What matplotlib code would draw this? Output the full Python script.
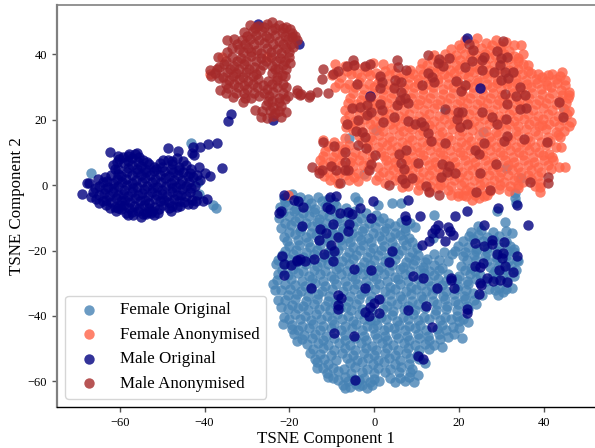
import matplotlib
matplotlib.use("Agg")
import matplotlib.pyplot as plt

female_original = [
(-21.2,-3.9),(-19.5,-2.6),(-17.4,-3.6),(-15.6,-4.4),(-13.2,-3.5),(-11,-4.2),(-4.6,-3.6),(-3.8,-4.8),(33.2,-4),(33.4,-5.5),(1,-6),(4.1,-5.6),(6.4,-5.6),(-43.3,12.7),
(-22.3,-6.6),(-20.3,-6),(-18.4,-7.2),(-16,-6.8),(-13.9,-7.4),(-11.7,-6.4),(-8.9,-6.5),(-6.6,-7.1),(29,-7.9),
(-22.4,-10),(-20.1,-9.4),(-17.7,-10.1),(-15.3,-9.6),(-13,-10.3),(-10.6,-9.5),(-8.2,-10.1),(-5.7,-9.4),(-3.1,-10.2),(0.4,-9),(2,-10),(14.2,-9.2),
(-22,-13),(-19.6,-12.2),(-17.2,-13.1),(-14.7,-12.5),(-12.4,-13),(-9.9,-12.8),(-7.4,-13.2),(-5,-12.4),(-2.4,-13.1),(0.2,-12.7),(2.7,-13.2),(5,-12.5),(7.3,-13),(9.6,-12.7),(24.5,-12.4),(30.8,-11.4),
(-21.2,-15.8),(-18.7,-15.1),(-16.2,-16),(-13.8,-15.3),(-11.2,-16.1),(-8.9,-15.4),(-6.3,-16.1),(-3.9,-15.5),(-1.4,-16.3),(1.1,-15.6),(3.6,-16),(6.1,-15.3),(8.2,-16.2),(13.8,-16.2),(22.3,-15.6),(24.5,-15.4),(26.6,-15.9),(29.4,-15.5),(32.4,-14.8),
(-20.1,-18.6),(-17.7,-18.2),(-15.2,-19),(-12.7,-18.4),(-10.1,-19.2),(-7.6,-18.3),(-5.1,-19),(-2.6,-18.4),(-0.2,-19.1),(2.4,-18.5),(5,-19),(7.4,-18.2),(10,-19.1),(19.7,-18.5),(22,-18.9),(24.3,-19.4),(26.7,-19.2),(29.3,-18.8),(32,-18.5),
(-21.7,-21.5),(-19.2,-21.1),(-16.7,-21.9),(-14.3,-21.2),(-11.8,-22),(-9.3,-21.4),(-6.7,-22.1),(-4.2,-21.3),(-1.6,-22),(0.9,-21.3),(3.3,-21.9),(5.7,-21.2),(8.1,-22),(10.4,-21.4),(12.4,-22.5),(14.2,-21),(16.4,-20.6),(18.4,-21.2),(21,-21.7),(23.5,-21.4),(26,-21.6),(28.6,-22),(31,-21.6),(33,-20.5),
(-23.2,-24),(-21.1,-24.2),(-18.6,-24.5),(-16.1,-24),(-13.6,-24.8),(-11,-24.2),(-8.4,-24.9),(-5.9,-24.2),(-3.4,-24.9),(-0.9,-24.3),(1.6,-25),(4.2,-24.4),(6.7,-25),(9.1,-24.2),(11.5,-25),(14,-24.4),(16,-25.2),(20.5,-24.6),(22.8,-25.2),(27.2,-25),(29.4,-24.6),(32.2,-24.6),(34,-23.2),
(-22.7,-27.1),(-20.4,-27.4),(-17.9,-27),(-15.4,-27.8),(-12.9,-27.1),(-10.3,-27.9),(-7.8,-27.2),(-5.2,-27.9),(-2.7,-27.1),(-0.2,-27.8),(2.3,-27.2),(4.8,-28),(7.2,-27.3),(11.8,-27),(14,-27.6),(17.4,-27.2),(20,-27.8),(22.5,-27.1),(25,-27.6),(28,-27.1),(30.3,-27.6),(33,-27.8),
(-23.9,-30.2),(-23.3,-32),(-21,-30.3),(-18.8,-30.4),(-16.4,-30.9),(-14,-30),(-11.5,-30.8),(-9,-30.1),(-6.5,-30.9),(-4,-30.1),(-1.4,-30.8),(1.1,-30.2),(3.6,-31),(6.1,-30.3),(8.6,-31),(11,-30.4),(13.3,-30.9),(16,-30.5),(19.8,-30.8),(22.2,-30.2),(27,-31.8),(29.3,-31.4),(32.4,-31.6),(30.3,-32.6),
(-22.6,-35.2),(-20.4,-33.6),(-18.2,-33.2),(-15.7,-33.9),(-13.2,-33.2),(-10.7,-33.9),(-5.7,-33.9),(-3.2,-33.2),(-0.7,-34),(3.6,-33.3),(6.1,-34),(8.6,-33.3),(11.1,-34),(13.7,-33.4),(16.3,-34),(18.8,-33.3),(21.2,-33.8),(23.4,-33),(25.4,-33.7),(29.2,-33.6),
(-22,-37.4),(-19.3,-36.5),(-16.8,-37),(-14.3,-36.3),(-11.7,-37),(-9.2,-36.4),(-6.7,-37.1),(-4.2,-36.3),(3,-36.9),(5.4,-36.3),(7.9,-37),(10.4,-36.2),(14.7,-36.3),(17.2,-37),(19.7,-36.3),(21.9,-36.9),(23.9,-36.3),
(-21.2,-40.2),(-18.8,-39.4),(-16.3,-40),(-13.8,-39.3),(-11.2,-40),(-8.7,-39.4),(-6.2,-40.1),(-3.6,-39.4),(-1,-41.3),(1.6,-40.2),(4.1,-39.6),(6.7,-40.2),(9.2,-39.5),(11.7,-40.2),(14.3,-39.5),(16.8,-40.2),(19.5,-40),(22.2,-41.8),(21,-41),
(-21.5,-42.5),(-19.4,-42.6),(-17,-43),(-14.5,-42.4),(-12,-43),(-9.5,-42.5),(-6.9,-43),(-4.4,-42.4),(-1.8,-43.2),(0.7,-42.6),(3.2,-43.3),(5.8,-42.6),(8.3,-43.2),(10.8,-42.6),(16,-42.8),(18.5,-43.4),(20,-43.8),(18.7,-45.5),
(-18.3,-47.6),(-19,-45.6),(-16.5,-45.8),(-14,-45.4),(-11.4,-46),(-6.9,-45.9),(-2.4,-46),(0.1,-45.4),(2.6,-46.1),(5.2,-45.5),(7.7,-46.1),(10.2,-45.6),(12.7,-46),(15.2,-45.6),(17.3,-46.3),(20.6,-46.8),
(-15.8,-48.6),(-13.3,-48.4),(-10.8,-49),(-8.2,-48.4),(-5.7,-49),(-3.1,-48.4),(-0.6,-49.1),(1.9,-48.4),(4.5,-49),(7,-48.4),(9.5,-49),(11.9,-48.5),(14,-49),(15.9,-49.4),
(-15.2,-51.4),(-12.7,-51.5),(-10.2,-52),(-7.6,-51.3),(-5,-52),(-2.5,-51.4),(0,-52),(2.5,-51.4),(5,-52),(7.6,-51.3),(10.1,-51.8),
(-13.6,-54),(-11,-54.6),(-5.8,-54.5),(-3,-54),(-0.4,-54.7),(2.2,-54.2),(5,-54.7),(8.3,-54.7),(11.9,-54.5),
(-13.6,-56),(-11.2,-57.4),(-8.6,-56.8),(-5.5,-57.5),(-2.9,-57),(0,-57.4),(2.6,-57),(5.8,-57.2),(8.4,-57.2),(10.4,-58),
(-10.9,-58.6),(-8.5,-59.4),(-6.2,-60),(-3.6,-59.6),(-1,-60.2),(1.1,-59.8),(5,-60.2),(7.2,-60),(9.4,-60.1),
(-6.9,-62.1),(-5.6,-61.6),(-3.5,-61.5),(-1.8,-62.1),
(-66.8,3.6),(-37.3,-6.9),(-38.1,-6.1),(-41.5,1),(-41.3,-2.7),
(16.7,22.5),(44.8,23.1),(25.7,16.3),(31,5.3),(34.5,2.2),(-2.4,3.4),(-5.9,14.3),(0.4,16.8),(33.2,-2.5),
(-21,-5.2),(-18,-4.8),(-15,-5.4),(-12.3,-5),(-9.6,-5.3),
(-21.4,-8.3),(-19,-7.9),(-16.7,-8.6),(-14.3,-8.1),(-12,-8.7),(-9.5,-8),(-7,-8.5),(-4.6,-8),(-2,-8.6),
(-21,-11.5),(-18.6,-11),(-16,-11.7),(-13.6,-11.2),(-11.3,-11.6),(-8.8,-11.1),(-6.4,-11.7),(-4,-11),(-1.3,-11.6),(1.2,-11),(3.5,-11.7),(6.2,-11.2),(8.5,-11.6),
(-20,-14.3),(-17.5,-13.9),(-15,-14.5),(-12.6,-14),(-10,-14.6),(-7.6,-14),(-5.2,-14.6),(-2.8,-14),(-0.2,-14.6),(2.4,-14),(4.8,-14.6),(7.2,-14),(22.8,-14.3),(25.2,-13.8),(28,-14.2),(31,-13.9),
(-20.5,-17),(-18,-16.7),(-15.6,-17.3),(-13,-16.7),(-10.6,-17.3),(-8,-16.8),(-5.6,-17.4),(-3.1,-16.7),(-0.7,-17.3),(1.8,-16.8),(4.3,-17.4),(6.8,-16.8),(9,-17.3),(21,-17),(23.4,-16.6),(25.6,-17.2),(28.3,-16.8),(31,-17.2),
(-21,-20),(-18.5,-19.7),(-16,-20.3),(-13.5,-19.8),(-11,-20.4),(-8.5,-19.8),(-6,-20.3),(-3.4,-19.7),(-0.9,-20.4),(1.6,-19.8),(4.1,-20.3),(6.5,-19.8),(9,-20.4),(19,-20),(21.5,-20.3),(24,-20.1),(26.5,-20.4),(29,-20),(31.5,-20.2),(33,-19.6),
(-22.6,-23),(-20,-22.7),(-17.5,-23.3),(-15,-22.8),(-12.5,-23.4),(-10,-22.8),(-7.6,-23.3),(-5,-22.7),(-2.5,-23.4),(0,-22.8),(2.5,-23.3),(5,-22.7),(7.4,-23.4),(9.7,-22.9),(12,-23.4),(15.2,-23),(17.4,-23.2),(21.8,-23),(24,-22.9),(26.5,-23.2),(29,-23),(31.5,-23.3),(33.7,-22.9),
(-21.7,-26),(-19.2,-25.7),(-16.7,-26.3),(-14.2,-25.8),(-11.7,-26.3),(-9,-25.7),(-6.5,-26.3),(-4,-25.8),(-1.5,-26.4),(1,-25.8),(3.5,-26.3),(6,-25.7),(8.4,-26.3),(10.8,-25.8),(13,-26.3),(15.2,-25.9),(21.5,-26),(23.8,-26.3),(28.5,-26.2),(31,-26.1),(33.5,-26),
(-22.9,-29),(-19.6,-28.7),(-17,-29.3),(-14.6,-28.8),(-12,-29.3),(-9.6,-28.7),(-7,-29.4),(-4.6,-28.8),(-2,-29.3),(0.5,-28.7),(3,-29.4),(5.5,-28.8),(8,-29.3),(10.3,-28.7),(12.6,-29.3),(15,-28.8),(17,-29.2),(19.4,-28.8),(21.8,-29.3),(24,-28.7),(26.3,-29.2),(28.8,-28.8),(31.4,-29),
(-22,-32),(-19.8,-31.8),(-17.2,-32.3),(-14.8,-31.8),(-12.3,-32.3),(-10,-31.7),(-7.3,-32.4),(-4.8,-31.8),(-2.4,-32.3),(0.2,-31.8),(2.6,-32.4),(5,-31.8),(7.4,-32.3),(9.8,-31.7),(12.2,-32.4),(14.6,-31.8),(17,-32.3),(19.4,-31.8),(21.6,-32.2),(28.4,-32.1),(31,-31.9),
(-21,-35),(-18.6,-34.7),(-16,-35.3),(-13.6,-34.8),(-11,-35.3),(-8.6,-34.8),(-6.1,-35.4),(-3.6,-34.8),(-1,-35.3),(1.5,-34.7),(4,-35.4),(6.5,-34.8),(9,-35.3),(11.6,-34.7),(13.9,-35.3),(16.6,-34.8),(19,-35.3),(21.4,-34.8),(23.6,-35.1),
(-20.4,-38),(-18,-37.7),(-15.6,-38.3),(-13,-37.8),(-10.5,-38.3),(-8,-37.7),(-5.5,-38.3),(-3,-37.8),(-0.5,-38.3),(2,-37.8),(4.5,-38.4),(7,-37.8),(9.5,-38.3),(12,-37.7),(14.5,-38.3),(17,-37.8),(19.6,-38.3),(22,-37.9),
(-20,-41),(-17.6,-40.8),(-15,-41.3),(-12.5,-40.8),(-10,-41.3),(-7.5,-40.8),(-5,-41.4),(-2.4,-40.8),(0.2,-41.3),(2.8,-40.8),(5.3,-41.4),(7.9,-40.8),(10.4,-41.3),(13,-40.8),(15.4,-41.3),(18,-40.9),(20,-41.6),
(-19.4,-44),(-18,-44.2),(-15.3,-43.8),(-12.8,-44.3),(-10.3,-43.8),(-7.8,-44.3),(-5.3,-43.8),(-2.8,-44.4),(-0.3,-43.8),(2.2,-44.3),(4.7,-43.8),(7.2,-44.4),(9.7,-43.8),(12.2,-44.3),(14.7,-43.9),(17,-44.2),
(-17,-47),(-14.6,-46.8),(-12,-47.3),(-9.5,-46.8),(-7,-47.3),(-4.5,-46.8),(-2,-47.4),(0.6,-46.8),(3.1,-47.3),(5.6,-46.8),(8.1,-47.3),(10.6,-46.8),(13,-47.3),(15.5,-47),
(-14.5,-50),(-12,-49.8),(-9.5,-50.3),(-7,-49.8),(-4.5,-50.3),(-2,-49.8),(0.5,-50.4),(3,-49.8),(5.5,-50.3),(8,-49.8),(10.5,-50.3),(13,-50),
(-14,-53),(-11.8,-53),(-9,-53.3),(-6.5,-52.8),(-4,-53.3),(-1.5,-52.8),(1,-53.4),(3.5,-52.8),(6,-53.3),(8.5,-52.9),(10.5,-53.2),
(-12,-56),(-9.8,-55.8),(-7.2,-56.2),(-4.5,-55.7),(-1.8,-56.2),(1,-55.8),(3.6,-56.3),(6.3,-55.7),(9,-56.1),
(-9.8,-59),(-7,-58.7),(-4.8,-59.2),(-2.3,-58.8),(0,-59.3),(3.6,-58.8),(6,-59),(8.2,-58.7),
(-7.4,-61),(-4.4,-60.9),(-2.8,-61.1),(-0.6,-61.2),
]
female_anonymised = [
(21.5,44.2),(24.2,44.8),(26.3,43.5),(28.8,44.3),(31,43.6),(34.7,42.8),
(18.2,41.5),(20.5,41.8),(22.8,40.9),(25.1,42),(27.3,41.2),(29.6,41.6),(31.8,40.8),(34,38.8),
(11.2,37.2),(13.6,38.5),(15.8,38),(18,38.9),(20.3,38.2),(22.6,38.6),(24.9,38.4),(27,38.9),(29.3,38),(31.5,38.6),(33.8,37.9),(36.3,36.7),
(-9.3,37),(-7,36.3),(-4.8,36.8),(-2.5,36),(-0.2,37.2),(2,36.9),(4,35.7),(8.5,35),(10.9,35.4),(13.2,34.8),(15.5,35.6),(17.8,35),(20,35.5),(22.4,34.9),(24.7,35.6),(27,35),(29.4,35.4),(31.8,35),(34,35.6),(36.3,34.8),(38.6,33.8),(41,33.5),(44.2,34.6),
(-10,33.5),(-7.8,33),(-5.5,33.8),(-3.2,33),(-1,33.6),(1.3,32.8),(3.5,33.6),(5.8,32.8),(8.1,33),(10.3,32.4),(12.6,32.8),(15,32.5),(17.3,33),(19.6,32.3),(22,32.9),(24.3,32.2),(26.6,32.8),(28.9,32.2),(31.2,31.8),(33.5,32.8),(35.8,32),(38.2,32.5),(40.5,31.8),(42.8,32.4),(45,30.5),
(-9.2,30),(-7,29.5),(-4.6,30),(-2.4,29.2),(-0.1,30.1),(2.2,29.4),(4.6,30),(7,29.5),(9.3,30),(11.5,29.3),(13.9,30),(16.2,29.4),(18.5,29.9),(20.8,29.2),(23.2,29.9),(25.5,29.3),(27.8,29.9),(30,29.2),(32.4,29.8),(34.7,29.2),(37,29.9),(39.3,29.2),(41.6,29.8),(44,29),(46,28.5),
(-5.7,26.6),(-3.2,26),(-0.8,26.7),(1.5,26),(3.9,26.6),(6.2,26),(8.6,26.6),(10.9,26),(13.2,26.7),(15.6,26),(17.9,26.7),(20.2,26),(22.6,26.6),(24.9,26),(27.2,26.7),(29.5,26),(31.9,26.6),(34.2,26),(36.5,26.7),(38.9,26),(41.2,26.6),(43.5,26),(45.6,26.5),
(-7,23),(-4.8,23.4),(-2.4,22.8),(0,23.4),(2.3,22.8),(4.7,23.5),(7,22.8),(9.4,23.4),(11.7,22.8),(14,23.5),(18.7,23),(21,23.5),(23.4,22.8),(25.7,23.4),(28,22.8),(30.4,23.5),(32.7,22.8),(35,23.4),(37.4,22.8),(39.7,23.4),(42,22.8),(44.4,23.4),(46,22.7),
(-6.8,20),(-4.5,19.6),(-2.2,20.3),(0.2,19.6),(2.5,20.2),(4.9,19.7),(7.2,20.2),(9.5,19.6),(11.9,20.3),(14.2,19.6),(16.5,20.2),(18.9,19.6),(21.2,20.2),(23.6,19.5),(25.9,20.2),(28.2,19.6),(30.6,20.2),(32.9,19.5),(35.3,20.2),(37.6,19.6),(39.9,20.2),(42.3,19.5),(44.6,20),(46.5,19.3),
(-6.6,17.8),(-5,16.8),(-2.6,16.2),(-0.3,17),(2,16.4),(4.4,17),(6.7,16.4),(9,17),(11.4,16.4),(13.7,17),(16,16.3),(18.4,17),(20.7,16.4),(23,16.9),(26.4,16.6),(28.7,16.3),(31,17),(33.4,16.4),(35.7,17),(38,16.4),(40.4,17),(42.8,16.3),(44.8,16.5),(39.5,18.4),
(-12,13.7),(-9.6,13),(-7,14.3),(-2.8,13),(-0.5,13.7),(1.8,13),(4.2,13.6),(6.5,13),(8.8,13.7),(11.2,13),(13.5,13.6),(15.8,13),(18.2,13.7),(20.5,13),(22.8,13.6),(25.2,13),(27.5,13.6),(29.8,13),(32.2,13.7),(34.5,13),(36.8,13.6),(39.2,13),(41.5,13.6),(43.8,14.6),
(-11.5,10.5),(-9,10.1),(-6.8,11),(-4.5,10),(-1.2,10.6),(1.6,10.1),(3.9,10.6),(6.2,10),(8.6,10.6),(10.9,10),(13.2,10.7),(15.6,10),(17.9,10.6),(20.2,10),(22.6,10.6),(24.9,10),(27.2,10.7),(29.6,10),(31.9,10.6),(34.2,10),(36.6,10.6),(38.9,10),(41.2,9.6),(44,11.5),
(-12.7,7.5),(-10.4,7),(-8.2,7.6),(-5.8,7),(-3.5,7.5),(-1.2,7),(2.8,7.5),(5,7),(7.4,7.6),(9.7,7),(12,7.5),(14.4,7),(16.7,7.6),(19,7),(21.4,7.6),(23.7,7),(26,7.5),(28.4,7),(30.8,7.6),(33,7),(35.4,7.6),(37.7,7),(40,7.5),(42.2,7.8),
(-13,4.6),(-11,4),(-8.4,3.8),(-6,4.3),(-3.8,3.8),(-1.5,4.8),(2,4),(4.4,4.6),(6.7,4),(9,4.6),(11.4,4),(13.7,4.6),(16,4),(18.4,4.6),(20.7,4),(23,4.7),(25.4,4),(27.7,4.6),(30,3.9),(32.4,4.6),(34.7,4),(37,4.6),(39.4,4),(45,5.6),(41.6,5),
(-10.5,1.5),(-8.5,0.5),(-6,1.5),(-3.8,1.3),(0.5,1.5),(2.5,0.7),(4.9,1.5),(7.2,0.9),(9.5,1.5),(11.9,0.9),(14.2,1.5),(16.5,0.9),(18.9,1.5),(21.2,0.9),(23.6,1.5),(25.9,0.9),(28.2,1.5),(30.6,0.9),(32.9,1.5),(35,1),(37,2),(39,0.5),
(6.5,-0.6),(10.4,-1.5),(12.8,-1.8),(15,-1),(17.4,-1.5),(19.7,-2.5),(21.6,-1.4),(23,-2.2),(25,-1.4),(27.3,-1.8),(29.5,-1.2),(31.8,-1.8),(34,-1),(39,-2),(39,-0.6),
(19.8,-3.3),(21.6,-3.4),(23,-4.6),(24.6,-4),(25.8,-3.2),
(-35.8,39),(-38.8,33.9),(-25.4,39.2),(-20.3,-2.9),
(20,42.8),(23.5,43),(27.7,42.8),(30,42.5),(33,42.7),
(14,39.8),(16.8,40),(19.2,39.6),(21.5,39.9),(24,39.6),(26.2,40),(28.4,39.6),(30.6,39.9),(32.9,39.5),(35,40),
(12.4,36.8),(14.7,36.5),(16.9,37),(19.2,36.6),(21.5,37),(23.8,36.5),(26,37),(28.2,36.6),(30.4,37),(32.6,36.5),(35,36.9),
(-9,34.5),(-6.4,34.8),(-4.1,34.3),(-1.8,34.8),(0.5,34.3),(2.6,34.7),(4.8,34.2),(7,34),(9.2,33.9),(11.4,34),(14.2,34.2),(16.5,33.8),(18.7,34.3),(21.1,33.9),(23.5,34.4),(25.8,33.8),(28.1,34.3),(30.4,33.8),(32.6,34.2),(34.9,33.8),(37,34.2),(39.5,33),(41.8,34),(43.8,33.3),
(-8.3,31.3),(-6,30.9),(-3.5,31.4),(-1.2,30.8),(1,31.3),(3.2,30.9),(5.6,31.4),(8,30.8),(10.4,31.3),(12.7,30.9),(15,31.4),(17.4,30.8),(19.7,31.3),(22,30.9),(24.4,31.4),(26.7,30.8),(29,31.2),(31.4,30.8),(33.7,31.3),(36,30.8),(38.4,31.2),(40.7,30.7),(43,31.2),(45,32),
(-5,28),(-2.6,27.6),(-0.2,28.2),(2.1,27.7),(4.4,28.2),(6.8,27.7),(9.2,28.2),(11.6,27.7),(13.9,28.2),(16.2,27.7),(18.5,28.2),(20.9,27.6),(23.2,28.2),(25.6,27.7),(27.9,28.2),(30.2,27.6),(32.6,28.2),(35,27.7),(37.3,28.2),(39.6,27.7),(42,28.2),(44.2,27.6),(46,27.5),
(-6.3,25),(-4,24.7),(-1.6,25.2),(0.7,24.7),(3,25.2),(5.5,24.8),(7.8,25.3),(10.2,24.7),(12.5,25.2),(14.8,24.7),(17.2,25.2),(19.5,24.7),(21.9,25.2),(24.2,24.7),(26.5,25.2),(29,24.7),(31.2,25.2),(33.6,24.7),(36,25.2),(38.2,24.7),(40.6,25.2),(42.9,24.7),(45.2,25),
(-6,21.5),(-3.6,21.2),(-1.2,21.7),(1.1,21.2),(3.5,21.7),(5.9,21.2),(8.2,21.7),(10.5,21.2),(12.9,21.7),(15.3,21.2),(17.6,21.7),(20,21.2),(22.3,21.7),(24.7,21.2),(27,21.7),(29.3,21.2),(31.7,21.7),(34,21.2),(36.3,21.7),(38.7,21.2),(41,21.7),(43.3,21.2),(45.5,21.6),
(-5.7,18.3),(-3.4,18),(-1,18.5),(1.3,18),(3.7,18.5),(6,18),(8.3,17.8),(10.7,17.8),(13,18.4),(15.4,18),(17.7,18.5),(20,18),(22.4,18.5),(24.7,18),(27,18.5),(29.4,18),(31.7,18.5),(34,18),(36.5,18.5),(38.9,18),(41.2,18.5),(43.6,18),(46,18),
(-3.6,15),(-1,14.7),(1.2,15.2),(3.5,14.7),(5.8,15.2),(8.2,14.7),(10.5,15.2),(12.9,14.7),(15.2,15.2),(17.5,14.7),(19.9,15.2),(22.2,14.7),(24.6,15.2),(27,14.7),(29.2,15.2),(31.6,14.7),(34,15.2),(36.3,14.7),(38.6,15.2),(41,14.7),(43.4,15.2),
(-11,12),(-8.4,11.8),(-6,12.3),(-1.4,12),(1,11.7),(3.1,12.2),(5.4,11.7),(7.7,12.2),(10,11.7),(12.4,12.2),(14.8,11.7),(17,12.2),(19.4,11.7),(21.7,12.2),(24,11.7),(26.4,12.2),(28.7,11.7),(31.1,12.2),(33.4,11.7),(35.8,12.2),(38,11.7),(40.4,12.2),(42.8,11.7),
(-12,9),(-9.8,8.7),(-7.5,9.2),(-5.2,8.7),(-3,9.2),(-0.5,8.5),(2.2,9),(4.6,8.6),(6.9,8.5),(9.2,8.7),(11.6,9.1),(14,8.6),(16.3,9.1),(18.6,8.6),(21,9.1),(23.3,8.6),(25.6,9.1),(28,8.6),(30.4,9.1),(32.7,8.6),(35,9.1),(37.4,8.6),(39.7,9.1),(42,8.6),
(-12.2,6),(-10,5.7),(-7.6,6.2),(-5,5.7),(-2.6,6.2),(1,5.5),(3.3,6),(5.7,5.6),(8,6.1),(10.4,5.6),(12.8,6.1),(15,5.6),(17.4,6.1),(19.8,5.6),(22,6.1),(24.5,5.6),(26.8,6.1),(29.2,5.6),(31.5,6.1),(33.8,5.6),(36.2,6.1),(38.5,5.6),(40.9,6.1),(43.6,5.6),
(-11.8,2.8),(-9.5,2.5),(-7,3),(-4.8,2.5),(-2,2.8),(1.2,2.7),(3.5,3),(5.8,2.6),(8.2,3),(10.5,2.5),(12.9,3),(15.2,2.5),(17.6,3),(19.9,2.5),(22.2,3),(24.6,2.5),(27,3),(29.3,2.5),(31.6,3),(34,2.5),(36.3,3),(38.6,2.7),
(8,-0.3),(10.8,0),(13.2,-0.4),(15.6,0.1),(18,-0.4),(20.4,0),(22.6,-0.5),(25,0),(27.4,-0.4),(29.7,0),(32,-0.4),(34,0),(37.8,-0.4),
(18,-3),(21,-3),(23.7,-3),(26.7,-2.9),
]
male_original = [
(-62.4,10.1),(-58,9),(-56.4,9.4),(-57.2,8.3),(-59.3,8.7),(-55.5,8.7),(-60.2,8),(-54.5,7.7),(-61.6,6),(-61.2,4.8),(-59,6.7),(-57,6.2),(-55.1,5.8),(-53,6.3),(-51.5,5),(-49.8,7.6),(-48.7,7.8),
(-48.7,11.2),(-46.2,10.5),(-46.5,8.3),(-42.7,11.7),(-42.9,9.7),(-42.5,9.2),(-41.1,11.7),(-39.2,12.5),(-37,12.7),(-41.3,5.6),(-39.9,3.6),(-38.8,2.9),(-39.5,-4.3),(-40.3,-4.9),
(-47.8,6.5),(-46,5.6),(-44.5,6),(-43.2,4.9),(-45,3.9),(-47.5,4),(-49.6,4.4),(-52,4.3),(-53.8,3.9),(-56,4),(-58.2,4.1),(-60.5,3.4),
(-63.5,2.6),(-65.2,2),(-62.9,1.1),(-60.6,1.7),(-58.5,2),(-56.2,1.6),(-54,2.2),(-51.7,1.8),(-49.4,2.3),(-47.2,1.5),(-45.3,1.4),(-42.8,2.5),(-41.2,1.6),
(-67.8,0.5),(-67.2,0.6),(-64.8,-0.2),(-62.8,-0.6),(-60.5,-0.4),(-58.2,0),(-56,-0.5),(-53.6,-0.2),(-51.3,-0.5),(-49,-0.2),(-46.8,-0.6),(-44.5,-0.3),(-42.3,-0.4),
(-69,-2.6),(-66.2,-2.1),(-63.8,-2.4),(-61.5,-2),(-59.3,-2.6),(-57,-2.1),(-54.7,-2.5),(-52.4,-2.2),(-50.1,-2.6),(-47.8,-2),(-45.5,-3),(-43.4,-2.2),(-41.8,-3),
(-66.9,-3.6),(-65.6,-4.3),(-63.2,-4.5),(-61,-4),(-58.7,-4.6),(-56.4,-4.1),(-54,-4.6),(-51.7,-4.2),(-49.5,-4.6),(-47.2,-4.2),(-44.9,-5.1),(-43,-4.6),(-42,-4.8),
(-65,-5.6),(-63.3,-6.2),(-61.2,-6.6),(-59,-6),(-56.7,-6.5),(-54.4,-6),(-52,-6.6),(-49.8,-6),(-47.6,-6.4),(-45.7,-6.4),(-42.8,-5.8),
(-60.4,-7),(-59.8,-7.4),(-55.8,-7.8),(-57,-8.3),(-53.5,-8.3),(-51,-8.4),(-46.6,-6.8),(-48.5,-6.9),
(-58.1,-9),(-56.9,-9.1),(-55.1,-9.7),(-53.8,-8.8),(-52.7,-8.6),(-51.9,-9),
(-60.5,9),(-57.8,9.6),(-56,9.9),(-60.6,7),(-58,7.4),(-55.8,7),(-53.6,7),(-50.6,6.6),(-47.6,7.4),(-45,7.2),
(-60.3,5),(-58,5.2),(-56,5),(-54,5),(-52,5.4),(-50,5.6),(-48,5),(-46,4.7),(-43.5,3.6),
(-62,3),(-59.6,2.9),(-57.2,3),(-55,3.1),(-52.8,3),(-50.6,3.2),(-48.4,2.9),(-46.2,3),(-44,2.8),(-41.8,3.2),
(-64,1),(-61.6,0.7),(-59.4,1),(-57,0.7),(-54.8,1),(-52.4,0.8),(-50.2,1),(-48,0.6),(-45.8,0.3),(-43.6,1),
(-65.8,-1),(-63.6,-1.2),(-61.4,-1),(-59,-1.4),(-56.8,-1),(-54.4,-1.3),(-52.2,-1),(-50,-1.4),(-47.6,-1),(-45.4,-1.3),(-43.2,-1),
(-65,-3),(-62.6,-3.2),(-60.4,-3),(-58,-3.4),(-55.8,-3),(-53.4,-3.3),(-51.2,-3),(-48.9,-3.3),(-46.6,-3),(-44.4,-3.4),
(-64,-5),(-62,-5.2),(-59.8,-5),(-57.6,-5.3),(-55.2,-5),(-53,-5.4),(-50.6,-5),(-48.4,-5.3),(-46,-5),(-44,-5.8),
(-62.4,-7),(-60,-6),(-57.8,-7),(-55.4,-7.1),(-53,-7),(-50.8,-7.2),(-48,-8),
(-60.8,-7.8),(-58.5,-8.4),(-54.6,-8.8),(-52.5,-7.8),
(-35.8,5.3),(-33.7,21.7),(-34.4,19.7),(-27.4,49.2),(-23.9,20),(-17.8,43),
(21.8,44.8),(24.9,29.7),(-1.1,27.3),
(8,-4.6),(-0.2,-4.8),(-3.4,-7.1),(-10.5,-3.8),(-9.1,-3.4),(-10.5,-7.4),(-11.1,-6.8),(-8.1,-8.4),(-6.1,-8.1),(-5.3,-8.9),(-0.8,-10),(7.2,-9.5),(7.6,-10.7),(10.8,-9.4),(19,-9.4),(21.8,-7.8),(29.2,-7.1),(33.6,-6.1),(36.3,-12.2),(25.9,-12.2),(15.1,-12.2),(14.3,-13.5),(15.3,-14.6),(13.5,-14.5),(17.3,-12.7),(17.8,-13.9),(18.6,-15.3),(13,-17),(16.8,-17.1),(11.2,-18.3),(23.7,-17.6),(25.9,-18.5),(27.7,-16.8),(27.8,-18),(30.7,-17.3),(28.9,-21.1),(30.4,-20.9),(30.2,-22.4),(33.6,-21.7),(23.7,-24.7),(25.6,-23.9),(24.9,-24.9),(30.8,-24.7),(29.4,-25.8),(32.6,-26.7),(26.7,-28.5),(28.1,-29.3),(29.6,-29),(31.4,-29.5),(24.9,-29.8),(25.1,-30.5),(24.8,-33.4),(18.2,-28.5),(18,-29),(18.9,-31.4),(14.7,-31.6),(11.6,-28.3),(9.2,-27.7),(4.3,-20.1),(3.5,-23.4),(-0.8,-25.8),(-4.7,-25.6),(-2.2,-31.4),(1.2,-34.8),(-0.1,-35.9),(-1,-37.4),(-2.2,-38.7),(-1.3,-39.9),(1.2,-39),(8,-38.2),(12.2,-36.9),(21.8,-37.9),(21.8,-39.2),(13.5,-43.5),(10.4,-52.2),(11.4,-53.2),(-4.6,-59.4),(-4.7,-46.1),(-9.4,-45.3),(-8.5,-33.6),(-7.9,-34.6),(-8.5,-36.7),(-8.6,-38),(-14.8,-31.3),(-17,-12.5),(-12.7,-13.4),(-11.4,-14.6),(-9.8,-12),(-5.9,-11.9),(-6.3,-14),(-8.6,-15.8),(-13,-16.8),(-10.3,-18.3),(-9.4,-20.2),(-11.8,-21.1),(-9.7,-23.1),(-14.2,-22.6),(-16.4,-23.2),(-17.5,-22.6),(-18.3,-23.1),(-17.9,-5),(-16.7,-6.6),
(-21.3,-3),(-18.9,-4.6),(-22.4,-8.6),(-22,-8),(-21.7,-21.7),(-21.3,-24.1),(-19.6,-24.4),(-18.3,-22.8),(-21.3,-27.4),
]
male_anonymised = [
(-12,35.3),(-12.4,32.3),(-9.7,33.9),(-8.5,34.9),(-6.5,36.5),(-5,38.2),(-4.7,36.7),(-2.2,36.4),(-1,37),(-4,30.9),(1.3,33.3),(1.9,31.6),(1.3,29.5),(5.3,38.2),(5.7,36.2),(7.6,35.1),(4.9,32.1),(6.3,31.4),(4.6,29.5),(6.4,28.5),(7.2,26.5),(6.1,26),(8,25),(5.3,24.4),(1.3,24.7),(1.9,22.9),(-1,27),(-1.8,24.4),(-3.4,23.9),(-5.3,23.4),(-1.8,21.4),(-0.8,22.4),(-3.8,20),(-6.5,18.5),(4.6,20.7),(2.1,19.3),(8,19.7),(9.7,18.8),(11,19.3),(11.8,18.1),
(-4.2,16.6),(-3,16.3),(-2.2,14.8),(-12,13.2),(-9.4,11.9),(-3.8,12.2),(-2,11.4),(0.2,9.2),(5.8,9.4),(7.4,10.7),(12.6,15.8),(13.4,13.4),(16.7,12.9),(25.9,12.9),(23.7,10.7),(24.8,9.4),(-6.9,10),(-6.9,6.9),(-0.8,6.4),(-1.3,4.6),(-10.2,5.8),(-8.9,4.6),(-6.9,4.6),(-6.1,4.6),(-12.4,4.6),(-13,3.8),(-14.6,5.6),(-8.1,0.7),(6.4,6.6),(7,4.9),(10.2,6.8),(15.9,6.3),(17.7,5.9),(19,3.8),(17.1,4.1),(15.7,2.5),(6.6,1.7),(7.2,0.7),(8.8,2.2),(3.5,0),(12.1,-0.2),(13,-2),(15.3,-3),(24.1,-2),(27.3,-1.5),(24.9,3.6),(28.7,6.4),(36.7,0.8),(40.9,2.5),(40.9,0.5),(30.7,13.4),(31.4,15),(35.4,14),(40.7,13.2),(29,18.6),(31.1,20.2),(27.8,20.9),(25.5,22.4),(34.4,23.2),(35.8,23.4),(31.3,24.9),(33.4,27.2),(35.5,27.5),(30.8,27.7),(34.4,29.8),(43.6,25.3),(44.5,20.9),(21.9,18.8),(20.2,17.8),(19.6,20.1),(19.8,22.2),(20.8,22.4),(16.7,23.1),(21.4,30.5),(20.4,28.8),(19.2,31.9),(14,31.6),(13.5,33.1),(12.7,34.3),(11.2,30.5),(12.6,39.7),(15.3,38.4),(15.1,37.2),(16.3,36.5),(17.7,38.7),(21.4,36.2),(23,38),(25.3,38.2),(25.9,39),(25.3,35.1),(28.2,34.6),(28.9,41),(30.4,44.1),(23.3,41.4),(22.3,43),(30,38.7),(31.2,39),(29.6,36.7),(30.8,34.6),(32.8,34.6),(30,32.1),(31.6,32.6),
(-18.3,28),(-15.2,27.5),(-13.6,28.5),(-11,28.2),(-15.4,26.9),(-17.6,27.4),
(-27.5,48.6),(-25.2,49.3),(-24.2,49.9),(-22.4,49),(-20.9,48.4),(-19.9,47.8),(-29.3,49),(-30.6,46.7),(-28.7,47),(-26.4,47),(-24.1,47.5),(-21.8,46.9),(-19.5,46.5),(-18.3,44.3),
(-34.8,44.3),(-33,44.6),(-31.2,44.3),(-29.4,44.6),(-27.2,44.2),(-24.9,44.9),(-22.5,44.1),(-20.4,44.5),(-18.6,45.5),
(-33.6,42),(-32,41.5),(-29.8,42),(-27.6,41.4),(-25.4,42),(-23,41.5),(-20.8,42),(-19.2,42.2),
(-36.8,39.2),(-33.5,39.2),(-31.3,38.8),(-29,39.3),(-26.8,38.7),(-24.4,39.2),(-22.2,38.8),(-20.1,39),
(-35.5,37),(-33,36.5),(-30.6,36.9),(-28.4,36.2),(-26.2,36.8),(-24,36.3),(-21.6,36.8),(-19.9,37.2),
(-38.8,35.1),(-37.6,34.2),(-36.6,36),(-34.8,34.5),(-32.6,34.2),(-30.2,34.6),(-27.8,33.9),(-24,34.1),(-21.7,33.5),(-22.8,35.3),(-38.4,33.4),
(-36.5,32.6),(-34.3,32),(-32,32.4),(-29.8,31.8),(-27.4,32.3),(-25,31.7),(-22.9,32),
(-36.4,29),(-34.4,29.5),(-33.3,27),(-32.1,30),(-30,29.4),(-27.7,29.9),(-25.4,29.2),(-23,29.9),(-20.7,30),(-18.3,29),(-17.3,27.9),
(-30.5,26.7),(-29,26.5),(-27.2,27.2),(-24.8,27.3),(-22.4,26.5),(-21,26.4),(-20.3,27.2),
(-28.1,22.9),(-25.6,24.4),(-23.8,23.9),(-22.1,24),(-26.4,22.6),(-24.6,22.8),(-22.4,22.5),(-20.7,22.4),(-26.6,20.9),(-25.2,20.5),(-23.8,21),(-22,20.9),
(-28,48),(-26,48.2),(-23.5,48),(-21.5,48),
(-30,45.5),(-27.8,45.7),(-25.5,45.4),(-23.4,45.8),(-21,45.5),(-19.5,45.2),
(-32.4,43),(-30.4,43.2),(-28.3,43),(-26,43.3),(-23.8,43),(-21.5,43.2),(-19.6,43),
(-34.6,40.5),(-31,40.5),(-29,40.7),(-26.6,40.4),(-24.3,40.6),(-22,40.4),(-20,40.6),
(-35,38),(-32.4,38),(-30.2,37.8),(-27.8,38),(-25.6,37.8),(-23.2,38),(-21,38),
(-37,35.5),(-34,35.5),(-31.8,35.6),(-29.6,35.4),(-27,35.2),(-23.3,35.6),(-20.8,35.5),
(-35.6,33),(-33.4,33.2),(-31,33),(-28.6,33.2),(-23,33),(-21,33.2),
(-35,30.8),(-33,30.8),(-30.8,30.7),(-28.6,31),(-26.2,30.7),(-24,31),(-21.6,30.8),
(-35,28),(-32.7,28.2),(-30.6,28),(-28.4,28.2),(-26,28),(-23.8,28.3),(-21.5,28.2),
(-31,25.5),(-24,25.6),(-22.5,25.5),(-23.3,22),(-25,25.7),
]

plt.rcParams["font.family"] = ["Liberation Serif", "DejaVu Serif"]
fig = plt.figure(figsize=(5.95, 4.48), dpi=100)
ax = fig.add_axes([57 / 595, 1 - 407 / 448, 538 / 595, 402 / 448])

series = [
    ("Female Original", female_original, "steelblue"),
    ("Female Anonymised", female_anonymised, "tomato"),
    ("Male Original", male_original, "navy"),
    ("Male Anonymised", male_anonymised, "#A52A2A"),
]
for name, pts, col in series:
    xs = [p[0] for p in pts]
    ys = [p[1] for p in pts]
    ax.scatter(xs, ys, s=56, c=col, alpha=0.8, linewidths=0, label=name)

ax.set_xlim(-74.8, 52.05)
ax.set_ylim(-67.8, 55)
ax.set_xticks([-60, -40, -20, 0, 20, 40])
ax.set_yticks([-60, -40, -20, 0, 20, 40])
ax.tick_params(labelsize=9, color="#555555", length=3.5, width=1, labelcolor="black")
ax.set_xlabel("TSNE Component 1", fontsize=12.2, labelpad=1.5)
ax.set_ylabel("TSNE Component 2", fontsize=12.2, labelpad=2)
ax.spines["right"].set_visible(False)
ax.spines["left"].set_color("#808080")
ax.spines["left"].set_linewidth(1.6)
ax.spines["top"].set_color("#808080")
ax.spines["top"].set_linewidth(1.2)
ax.spines["bottom"].set_color("black")
ax.spines["bottom"].set_linewidth(1)
ax.legend(loc="lower left", fontsize=12.2, framealpha=0.8)
fig.savefig("out.png", dpi=100)
